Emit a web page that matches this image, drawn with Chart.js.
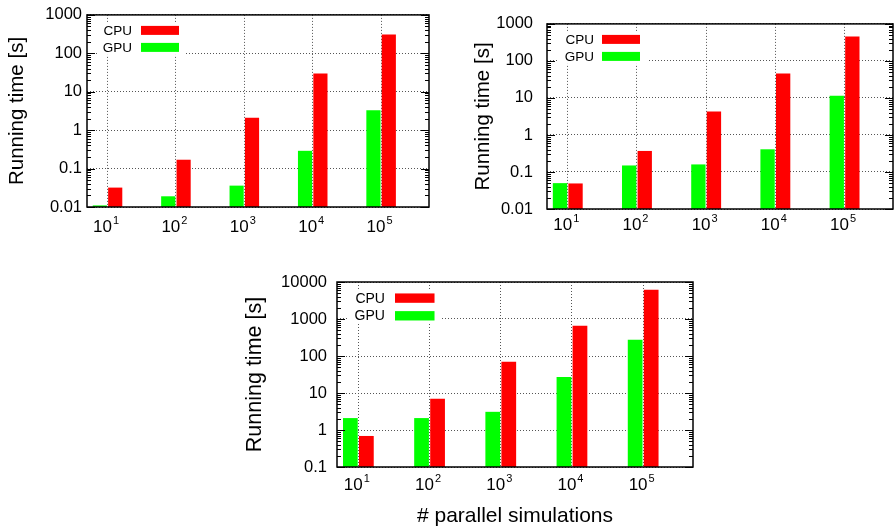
<!DOCTYPE html>
<html>
<head>
<meta charset="utf-8">
<script src="https://cdn.jsdelivr.net/npm/chart.js@4.4.1/dist/chart.umd.min.js"></script>
<style>
  html, body { margin: 0; padding: 0; background: #fff; }
  body { width: 896px; height: 531px; position: relative; overflow: hidden; }
  canvas { position: absolute; }
</style>
</head>
<body>
<canvas id="c1" width="440" height="240" style="left:0px;top:0px"></canvas>
<canvas id="c2" width="448" height="240" style="left:448px;top:0px"></canvas>
<canvas id="c3" width="470" height="269" style="left:230px;top:262px"></canvas>
<script>
// ---- data ----
const xPos = [1, 2, 3, 4, 5];
const xBase = ['10', '10', '10', '10', '10'];
const xExp = ['1', '2', '3', '4', '5'];
const seriesNames = ['GPU', 'CPU'];
const legendOrder = ['CPU', 'GPU'];
const seriesColors = { GPU: '#00ff00', CPU: '#ff0000' };

const gpuA = [0.011, 0.019, 0.036, 0.29, 3.3];
const cpuA = [0.032, 0.17, 2.1, 30, 310];
const gpuB = [0.05, 0.15, 0.16, 0.41, 11.5];
const cpuB = [0.049, 0.37, 4.3, 46, 455];
const gpuC = [2.1, 2.1, 3.1, 27, 275];
const cpuC = [0.69, 7.0, 70, 660, 6200];

const yTicksAB = [0.01, 0.1, 1, 10, 100, 1000];
const yLabelsAB = ['0.01', '0.1', '1', '10', '100', '1000'];
const yTicksC = [0.1, 1, 10, 100, 1000, 10000];
const yLabelsC = ['0.1', '1', '10', '100', '1000', '10000'];

const yTitle = 'Running time [s]';
const xTitle = '# parallel simulations';

Chart.defaults.font.family = "'Liberation Sans', Arial, sans-serif";
Chart.defaults.color = '#000';

function decoPlugin(L) {
  return {
    id: 'deco',
    afterDatasetsDraw(chart) {
      const { ctx, chartArea: a, scales } = chart;
      const y = scales.y, x = scales.x;
      ctx.save();
      // inward tick marks on left and right borders
      ctx.strokeStyle = '#000';
      ctx.lineWidth = 1;
      const lo = Math.floor(Math.log10(y.min)), hi = Math.ceil(Math.log10(y.max));
      for (let e = lo; e <= hi; e++) {
        for (let m = 1; m <= 9; m++) {
          const v = m * Math.pow(10, e);
          if (v < y.min * 0.999 || v > y.max * 1.001) continue;
          const py = Math.round(y.getPixelForValue(v)) + 0.5;
          const len = m === 1 ? L.major : L.minor;
          ctx.beginPath();
          ctx.moveTo(a.left, py); ctx.lineTo(a.left + len, py);
          ctx.moveTo(a.right, py); ctx.lineTo(a.right - len, py);
          ctx.stroke();
        }
      }
      // legend (opaque)
      const s = L.s;
      ctx.fillStyle = '#fff';
      ctx.fillRect(a.left + L.boxL, a.top + 8 * s, L.boxR - L.boxL, 32 * s);
      ctx.font = (13.5 * s) + "px 'Liberation Sans', Arial, sans-serif";
      ctx.textAlign = 'right';
      ctx.textBaseline = 'middle';
      legendOrder.forEach((name, i) => {
        const top = a.top + (11 + i * 17) * s;
        ctx.fillStyle = '#000';
        ctx.fillText(name, a.left + L.textR, top + 5 * s);
        ctx.fillStyle = seriesColors[name];
        ctx.fillRect(a.left + L.sampleL, top, 38 * s, 9 * s);
      });
      // frame
      ctx.strokeStyle = '#000';
      ctx.lineWidth = 1.5;
      ctx.strokeRect(a.left, a.top, a.width, a.height);
      // x tick labels with superscript exponent
      ctx.fillStyle = '#000';
      ctx.textAlign = 'left';
      ctx.textBaseline = 'alphabetic';
      const bf = L.xFont + "px 'Liberation Sans', Arial, sans-serif";
      const ef = L.supFont + "px 'Liberation Sans', Arial, sans-serif";
      xPos.forEach((v, i) => {
        const px = x.getPixelForValue(v);
        ctx.font = bf; const w1 = ctx.measureText(xBase[i]).width;
        ctx.font = ef; const w2 = ctx.measureText(xExp[i]).width;
        const left = px - (w1 + w2) / 2 - 2;
        const base = a.bottom + L.xBaseline;
        ctx.font = bf; ctx.fillText(xBase[i], left, base);
        ctx.font = ef; ctx.fillText(xExp[i], left + w1 + 1, base - L.supRaise);
      });
      ctx.restore();
    }
  };
}

function makeChart(id, gpu, cpu, yMin, yMax, yTicks, yLabels, L) {
  const mk = (arr) => xPos.map((x, i) => ({ x, y: arr[i] }));
  const data = { GPU: mk(gpu), CPU: mk(cpu) };
  return new Chart(document.getElementById(id), {
    type: 'bar',
    data: {
      datasets: seriesNames.map(n => ({
        label: n,
        data: data[n],
        backgroundColor: seriesColors[n],
        borderWidth: 0,
        categoryPercentage: 0.45,
        barPercentage: 0.92
      }))
    },
    options: {
      responsive: false,
      devicePixelRatio: 1,
      animation: false,
      events: [],
      layout: { padding: { left: 0, top: L.padTop, right: L.padRight, bottom: 0 } },
      plugins: { legend: { display: false }, tooltip: { enabled: false } },
      scales: {
        x: {
          type: 'linear',
          min: 0.7, max: 5.7,
          offset: false,
          afterBuildTicks: (sc) => { sc.ticks = xPos.map(v => ({ value: v })); },
          afterFit: (sc) => { sc.height = L.xAxisH; },
          ticks: { display: false },
          grid: { color: '#555', lineWidth: 1, drawTicks: false, offset: false },
          border: { display: false, dash: [1, 2] },
          title: L.xTitle ? {
            display: true, text: xTitle,
            font: { size: L.xTitleSize }, padding: { top: 0, bottom: 2 }
          } : { display: false }
        },
        y: {
          type: 'logarithmic',
          min: yMin, max: yMax,
          afterBuildTicks: (sc) => { sc.ticks = yTicks.map(v => ({ value: v })); },
          afterFit: (sc) => { sc.width = L.yAxisW; },
          ticks: {
            autoSkip: false,
            padding: L.yTickPad,
            font: { size: L.yFont },
            callback: (v, i) => yLabels[i]
          },
          grid: { color: '#555', lineWidth: 1, drawTicks: false },
          border: { display: false, dash: [1, 2] },
          title: {
            display: true, text: yTitle,
            font: { size: L.yTitleSize },
            padding: { top: L.yTitlePad, bottom: 4 }
          }
        }
      }
    },
    plugins: [decoPlugin(L)]
  });
}

makeChart('c1', gpuA, cpuA, 0.01, 1000, yTicksAB, yLabelsAB, {
  padTop: 14, padRight: 11, xAxisH: 33, yAxisW: 87, yTickPad: 5, yFont: 16.5,
  yTitleSize: 20.5, yTitlePad: 5, xFont: 17, supFont: 11, xBaseline: 25, supRaise: 8,
  major: 8, minor: 4, s: 1, boxL: 10, boxR: 98, textR: 45, sampleL: 54
});
makeChart('c2', gpuB, cpuB, 0.01, 1000, yTicksAB, yLabelsAB, {
  padTop: 13, padRight: 3, xAxisH: 31, yAxisW: 99, yTickPad: 14, yFont: 16.5,
  yTitleSize: 20.5, yTitlePad: 23, xFont: 17, supFont: 11, xBaseline: 21, supRaise: 8,
  major: 8, minor: 4, s: 1, boxL: 12, boxR: 100, textR: 47, sampleL: 55
});
makeChart('c3', gpuC, cpuC, 0.1, 10000, yTicksC, yLabelsC, {
  padTop: 20, padRight: 7, xAxisH: 64, yAxisW: 107, yTickPad: 10, yFont: 16.5,
  yTitleSize: 21.5, yTitlePad: 12, xFont: 17, supFont: 11, xBaseline: 23, supRaise: 8,
  major: 8, minor: 4, s: 1.04, boxL: 12, boxR: 105, textR: 48, sampleL: 58,
  xTitle: true, xTitleSize: 21
});
</script>
</body>
</html>
